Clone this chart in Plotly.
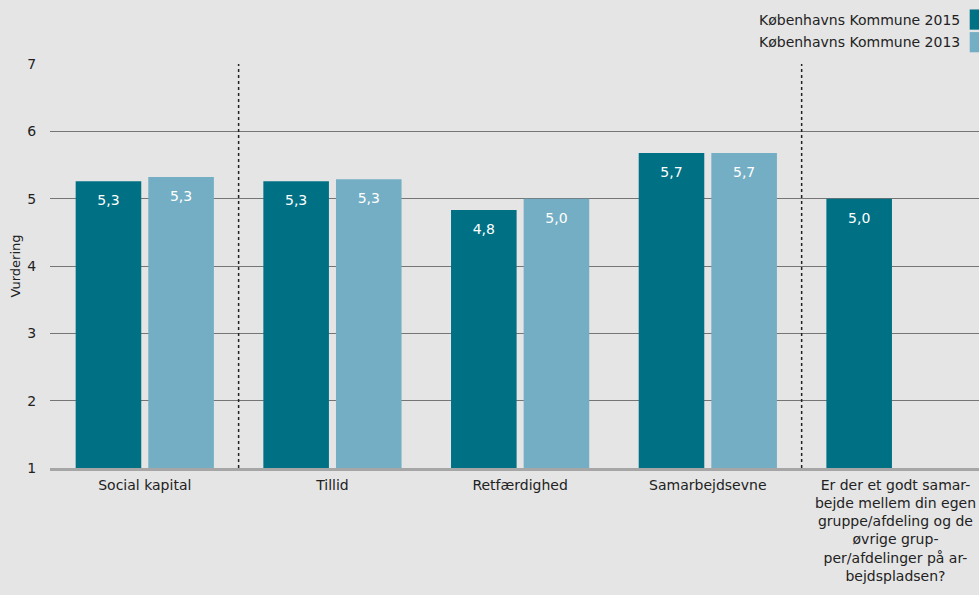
import plotly.graph_objects as go

categories = [
    "Social kapital",
    "Tillid",
    "Retfærdighed",
    "Samarbejdsevne",
    "Er der et godt samar-<br>bejde mellem din egen<br>gruppe/afdeling og de<br>øvrige grup-<br>per/afdelinger på ar-<br>bejdspladsen?",
]
series_names = ["Københavns Kommune 2015", "Københavns Kommune 2013"]
values_2015 = [5.26, 5.26, 4.83, 5.68, 5.0]
values_2013 = [5.32, 5.29, 5.0, 5.68, None]
y_ticks = [1, 2, 3, 4, 5, 6, 7]
separators_after = [0, 3]  # dotted separators after these category indices

colors = ["#007185", "#74aec4"]
FONT = "DejaVu Sans, Verdana, sans-serif"
bg = "#e5e5e5"


def fmt(v):
    return f"{v:.1f}".replace(".", ",") if v is not None else ""


fig = go.Figure()
for k, (name, vals, col) in enumerate(zip(series_names, [values_2015, values_2013], colors)):
    fig.add_trace(go.Bar(
        x=categories, y=[(v - 1) if v is not None else None for v in vals],
        base=1, offsetgroup=str(k), alignmentgroup="a",
        name=name, marker=dict(color=col, line=dict(width=0)),
        showlegend=False, hoverinfo="skip",
    ))
for k, vals in enumerate([values_2015, values_2013]):
    fig.add_trace(go.Scatter(
        x=categories, y=vals, mode="markers+text", offsetgroup=str(k), alignmentgroup="a",
        marker=dict(size=20, opacity=0),
        text=[fmt(v) for v in vals], textposition="bottom center",
        textfont=dict(color="white", size=14, family=FONT),
        showlegend=False, hoverinfo="skip", cliponaxis=False,
    ))

shapes = []
for i in separators_after:
    shapes.append(dict(type="line", xref="x", yref="paper", x0=i + 0.5, x1=i + 0.5, y0=0, y1=1,
                       line=dict(color="#222222", width=1.5, dash="dot"), layer="above"))

# legend (text left of swatch, swatch at right edge)
annotations = []
leg_y = [1.11, 1.054]
for name, col, yy in zip(series_names, colors, leg_y):
    annotations.append(dict(xref="paper", yref="paper", x=0.9815, y=yy, xanchor="right", yanchor="middle",
                            text=name, showarrow=False, font=dict(size=14, color="#222222", family=FONT)))
    shapes.append(dict(type="rect", xref="paper", yref="paper", x0=0.990, x1=1.0, y0=yy - 0.025, y1=yy + 0.025,
                       fillcolor=col, line=dict(width=0)))

fig.update_layout(
    width=979, height=595,
    paper_bgcolor=bg, plot_bgcolor=bg,
    margin=dict(l=50, r=0, t=64, b=127, autoexpand=False),
    barmode="group", bargap=0.226, bargroupgap=0.097,
    scattermode="group", scattergap=0.226,
    font=dict(family=FONT, size=14, color="#222222"),
    shapes=shapes, annotations=annotations,
    showlegend=False,
)
fig.update_xaxes(
    range=[-0.505, 4.445], showgrid=False, showline=True, linecolor="#a6a6a6", linewidth=3,
    ticks="outside", ticklen=2, tickcolor="rgba(0,0,0,0)", tickangle=0,
    tickfont=dict(size=14, family=FONT, color="#222222"), automargin=False,
)
fig.update_yaxes(
    range=[1, 7], tickvals=y_ticks, showgrid=True, gridcolor="#757575", gridwidth=1,
    zeroline=False, showline=False,
    ticks="outside", ticklen=10, tickcolor="rgba(0,0,0,0)",
    tickfont=dict(size=14, family=FONT, color="#222222"),
    title=dict(text="Vurdering", font=dict(size=13, family=FONT, color="#222222"), standoff=3),
    automargin=False,
)

fig.write_html("out.html", config={"displayModeBar": False},
               post_script="document.body.style.margin='0';document.body.style.overflow='hidden';")
